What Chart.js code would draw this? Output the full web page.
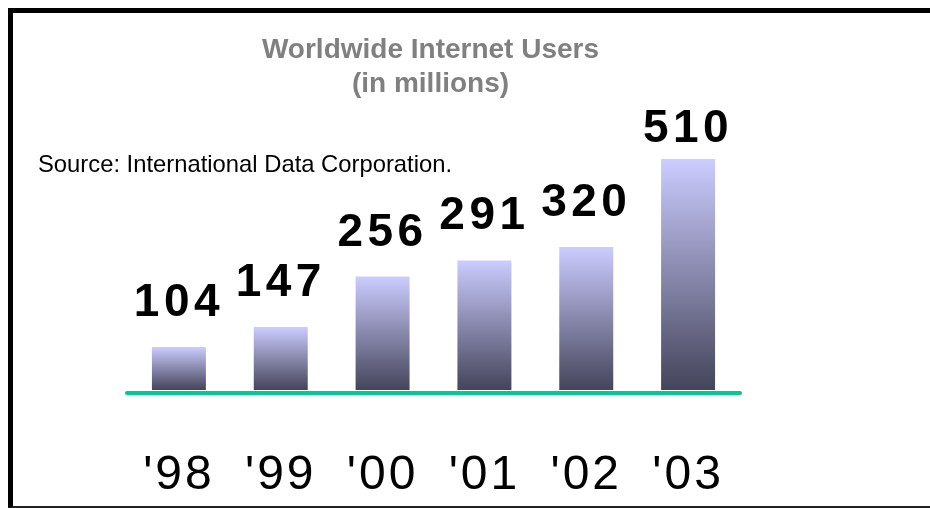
<!DOCTYPE html>
<html>
<head>
<meta charset="utf-8">
<title>Worldwide Internet Users</title>
<script src="https://cdn.jsdelivr.net/npm/chart.js@4.4.1/dist/chart.umd.min.js"></script>
<style>
  html, body { margin: 0; padding: 0; background: #fff; }
  #wrap { position: relative; width: 930px; height: 508px; overflow: hidden; }
  #chart { position: absolute; left: 0; top: 0; }
  /* slide frame: thick left/top edge, thin bottom edge */
  #frame {
    position: absolute; left: 8px; top: 8px; width: 1000px; height: 500px;
    box-sizing: border-box; pointer-events: none;
    border-left: 5px solid #000; border-top: 5px solid #000; border-bottom: 2px solid #222;
  }
</style>
</head>
<body>
<div id="wrap">
  <canvas id="chart" width="930" height="508"></canvas>
  <div id="frame"></div>
</div>
<script>
// Chart data
const years = ["'98", "'99", "'00", "'01", "'02", "'03"];
const users = [104, 147, 256, 291, 320, 510];
const titleLines = ['Worldwide Internet Users', '(in millions)'];
const sourceNote = 'Source: International Data Corporation.';

const FONT = '"Liberation Sans", Arial, Helvetica, sans-serif';

/**
 * Vertical gradient for each bar, from its own top down to the base
 */
function barGradient(context) {
  const chart = context.chart;
  const area = chart.chartArea;
  if (!area || context.raw === undefined) {
    return '#9999cc';
  }
  const top = chart.scales.y.getPixelForValue(context.raw);
  const g = chart.ctx.createLinearGradient(0, top, 0, area.bottom);
  g.addColorStop(0, '#ccccff');
  g.addColorStop(1, '#44445a');
  return g;
}

// Letter spacing for the category ticks (canvas property, not a Chart.js option)
const tickSpacing = {
  id: 'tickSpacing',
  beforeDraw(chart) {
    chart.ctx.letterSpacing = '3px';
  },
  afterDraw(chart) {
    chart.ctx.letterSpacing = '0px';
  },
};

// Baseline, value labels, title and source note
const annotations = {
  id: 'annotations',
  afterDatasetsDraw(chart) {
    const ctx = chart.ctx;
    const area = chart.chartArea;

    ctx.save();
    ctx.strokeStyle = '#00c896';
    ctx.lineWidth = 4;
    ctx.lineCap = 'round';
    ctx.beginPath();
    ctx.moveTo(area.left - 1, area.bottom + 3);
    ctx.lineTo(area.right + 1, area.bottom + 3);
    ctx.stroke();
    ctx.restore();

    const meta = chart.getDatasetMeta(0);
    ctx.save();
    ctx.letterSpacing = '4.5px';
    ctx.font = 'bold 46px ' + FONT;
    ctx.fillStyle = '#000';
    ctx.textAlign = 'center';
    ctx.textBaseline = 'alphabetic';
    meta.data.forEach((bar, i) => {
      // keep the tallest label inside the slide, just above the bar
      const y = Math.max(bar.y - 31, area.top - 17);
      ctx.fillText(String(users[i]), bar.x, y);
    });
    ctx.restore();
  },
  afterDraw(chart) {
    const ctx = chart.ctx;
    const area = chart.chartArea;
    ctx.save();
    ctx.letterSpacing = '0px';
    ctx.textBaseline = 'alphabetic';

    ctx.fillStyle = '#808080';
    ctx.font = 'bold 28px ' + FONT;
    ctx.textAlign = 'center';
    const cx = (area.left + area.right) / 2 - 3;
    titleLines.forEach((line, i) => {
      ctx.fillText(line, cx, 58 + i * 34);
    });

    ctx.fillStyle = '#000';
    ctx.font = '23.8px ' + FONT;
    ctx.textAlign = 'left';
    ctx.fillText(sourceNote, 38, 172);
    ctx.restore();
  },
};

new Chart(document.getElementById('chart'), {
  type: 'bar',
  data: {
    labels: years,
    datasets: [{
      data: users,
      backgroundColor: barGradient,
      borderWidth: 0,
      categoryPercentage: 1,
      barPercentage: 0.53,
    }],
  },
  options: {
    responsive: false,
    animation: false,
    events: [],
    layout: {
      padding: { left: 128, right: 191, top: 159, bottom: 0 },
    },
    scales: {
      x: {
        grid: { display: false, drawTicks: false },
        border: { display: false },
        ticks: {
          color: '#000',
          font: { family: FONT, size: 48 },
          padding: 57,
          maxRotation: 0,
          autoSkip: false,
        },
        afterFit(scale) {
          scale.height = 118;
        },
      },
      y: {
        display: false,
        min: 11,
        max: 510,
      },
    },
    plugins: {
      legend: { display: false },
      tooltip: { enabled: false },
      title: { display: false },
    },
  },
  plugins: [tickSpacing, annotations],
});
</script>
</body>
</html>
